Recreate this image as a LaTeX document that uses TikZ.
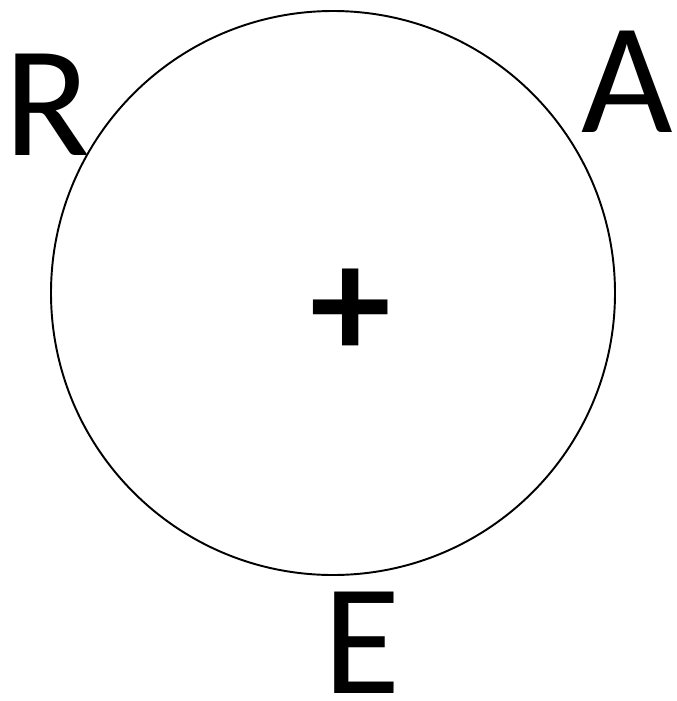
\documentclass[tikz,border=0pt]{standalone}
\usepackage{fontspec}
\setmainfont{Carlito}
\begin{document}
\begin{tikzpicture}
    \def\ringradius{5.64}

    \useasboundingbox (0,0) rectangle (13.54,-14.02);

    % the ring
    \draw[line width=1.1pt] (6.66,-5.86) circle (\ringradius);

    \tikzset{letter/.style={inner sep=0pt, font=\fontsize{90}{90}\selectfont}}

    \node[letter] (rlab) at (0.94,-2.10) {R};
    \node[letter] (alab) at (12.54,-1.64) {A};
    \node[letter] (elab) at (7.24,-12.85) {E};
    \node[letter, font=\fontsize{92}{92}\selectfont\bfseries] (plus) at (7.02,-6.28) {+};
\end{tikzpicture}
\end{document}
